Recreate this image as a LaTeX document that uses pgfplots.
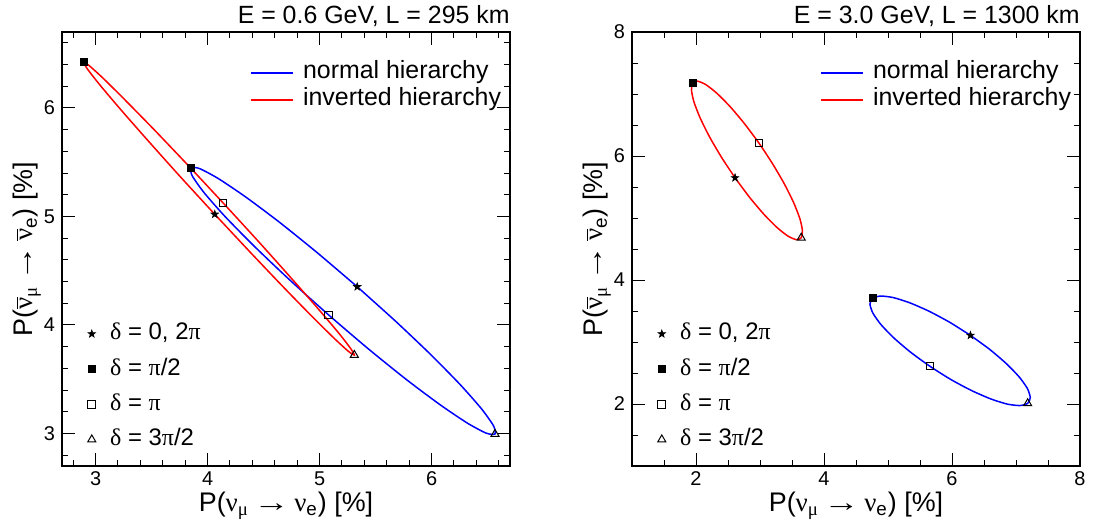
\documentclass[border=0pt]{standalone}
\usepackage{fontspec}
\setmainfont{Liberation Sans}
\newfontfamily\grk{Liberation Serif}
\usepackage{pgfplots}
\pgfplotsset{compat=1.18}
\usepackage{pgfplotstable}
\usetikzlibrary{plotmarks}

% filled five-point star
\pgfdeclareplotmark{fstar}{%
  \pgfpathmoveto{\pgfpointpolar{90}{\pgfplotmarksize}}%
  \pgfpathlineto{\pgfpointpolar{126}{0.4\pgfplotmarksize}}%
  \pgfpathlineto{\pgfpointpolar{162}{\pgfplotmarksize}}%
  \pgfpathlineto{\pgfpointpolar{198}{0.4\pgfplotmarksize}}%
  \pgfpathlineto{\pgfpointpolar{234}{\pgfplotmarksize}}%
  \pgfpathlineto{\pgfpointpolar{270}{0.4\pgfplotmarksize}}%
  \pgfpathlineto{\pgfpointpolar{306}{\pgfplotmarksize}}%
  \pgfpathlineto{\pgfpointpolar{342}{0.4\pgfplotmarksize}}%
  \pgfpathlineto{\pgfpointpolar{18}{\pgfplotmarksize}}%
  \pgfpathlineto{\pgfpointpolar{54}{0.4\pgfplotmarksize}}%
  \pgfpathclose
  \pgfusepathqfillstroke
}

\newcommand{\nub}{$\overline{\hbox{\grk ν}}$}
\newcommand{\arr}{\,\scalebox{1.35}[1]{\grk →}\,}
\newcommand{\xlab}{P({\grk ν}\textsubscript{\grk μ}\arr{\grk ν}\textsubscript{e}) [\%]}
\newcommand{\ylab}{P(\nub\textsubscript{\grk μ}\arr\nub\textsubscript{e}) [\%]}

% ellipses, delta = 0, 15, ..., 360 deg
\pgfplotstableread{
x y
5.336 4.352
4.980 4.665
4.640 4.948
4.338 5.181
4.096 5.349
3.929 5.441
3.850 5.449
3.863 5.374
3.968 5.220
4.157 4.998
4.418 4.724
4.733 4.415
5.080 4.093
5.436 3.779
5.776 3.496
6.078 3.263
6.320 3.095
6.487 3.003
6.566 2.995
6.553 3.070
6.448 3.224
6.259 3.446
5.998 3.721
5.683 4.030
5.336 4.352
}\nhleft

\pgfplotstableread{
x y
4.064 5.020
3.752 5.371
3.465 5.702
3.220 5.990
3.036 6.215
2.924 6.363
2.892 6.423
2.943 6.390
3.073 6.268
3.272 6.064
3.529 5.793
3.824 5.473
4.138 5.125
4.450 4.774
4.737 4.443
4.982 4.155
5.167 3.930
5.278 3.782
5.310 3.723
5.259 3.755
5.130 3.877
4.930 4.081
4.674 4.352
4.379 4.672
4.064 5.020
}\ihleft

\pgfplotstableread{
x y
6.288 3.107
5.964 3.318
5.640 3.497
5.338 3.633
5.080 3.717
4.883 3.741
4.759 3.706
4.718 3.613
4.763 3.468
4.889 3.282
5.090 3.067
5.350 2.838
5.653 2.610
5.977 2.398
6.301 2.219
6.603 2.083
6.861 1.999
7.059 1.975
7.182 2.010
7.223 2.103
7.179 2.248
7.052 2.434
6.851 2.649
6.591 2.879
6.288 3.107
}\nhright

\pgfplotstableread{
x y
2.610 5.648
2.397 5.981
2.211 6.310
2.065 6.613
1.969 6.869
1.929 7.062
1.948 7.177
2.025 7.207
2.155 7.150
2.328 7.010
2.533 6.796
2.756 6.523
2.982 6.210
3.195 5.877
3.381 5.548
3.527 5.245
3.623 4.989
3.663 4.796
3.644 4.681
3.567 4.651
3.437 4.708
3.264 4.848
3.059 5.062
2.836 5.335
2.610 5.648
}\ihright

\pgfplotsset{
  geom/.style={scale only axis, width=224bp, height=217bp, anchor=south west},
  rootax/.style={geom,
    axis line style={line width=1bp},
    every tick/.style={black, line width=0.5bp},
    major tick length=6.5bp, minor tick length=3.2bp,
    tick align=inside, xtick pos=both, ytick pos=both,
    tick label style={font=\fontsize{10}{12}\selectfont},
    xticklabel style={inner sep=2.6bp},
    /pgf/number format/assume math mode=true,
    xlabel style={at={(axis description cs:0.5,-0.1037)}, anchor=base, inner sep=0pt,
      font=\fontsize{13.5}{15}\selectfont},
    ylabel style={at={(axis description cs:-0.0658,0.5)}, anchor=base, inner sep=0pt,
      font=\fontsize{13.5}{15}\selectfont},
    title style={at={(axis description cs:1,1.0207)}, anchor=base east, inner sep=0pt,
      yshift=-6pt, font=\fontsize{12.5}{15}\selectfont},
    xlabel={\xlab}, ylabel={\ylab},
    legend style={draw=none, fill=none, inner sep=0pt, outer sep=0pt,
      at={(axis description cs:0.421,0.9334)}, anchor=north west,
      row sep=1.5bp, column sep=4.5bp, font=\fontsize{12.5}{15}\selectfont,
      nodes={inner sep=0pt, text height=9bp, text depth=3bp}},
    legend cell align=left,
    legend image code/.code={\draw[##1] (0bp,0bp) -- (21bp,0bp);},
  },
  markax/.style={geom, hide axis,
    legend style={draw=none, fill=none, inner sep=0pt, outer sep=0pt,
      at={(axis description cs:0.0576,0.0334)}, anchor=south west,
      row sep=5.6bp, column sep=7.2bp, font=\fontsize{12}{14}\selectfont,
      nodes={inner sep=0pt, text height=9bp, text depth=3bp}},
    legend cell align=left,
    legend image code/.code={\draw[##1] plot coordinates {(0bp,0bp)};},
  },
  mstar/.style={only marks, black, mark=fstar, mark size=2bp, mark options={line width=0.3bp}},
  mfsq/.style={only marks, black, mark=square*, mark size=1.8bp},
  mosq/.style={only marks, black, mark=square, mark size=1.9bp, mark options={line width=0.5bp}},
  mtri/.style={only marks, black, mark=triangle, mark size=2.3bp, mark options={line width=0.5bp}},
}

\begin{document}
\begin{tikzpicture}
\path[use as bounding box] (0,0) rectangle (550bp,262bp);

% left panel
\begin{axis}[rootax, at={(31bp,29bp)},
  xmin=2.7, xmax=6.7, ymin=2.7, ymax=6.7,
  xtick={3,4,5,6}, ytick={3,4,5,6},
  minor xtick={2.8,3.2,3.4,3.6,3.8,4.2,4.4,4.6,4.8,5.2,5.4,5.6,5.8,6.2,6.4,6.6},
  minor ytick={2.8,3.2,3.4,3.6,3.8,4.2,4.4,4.6,4.8,5.2,5.4,5.6,5.8,6.2,6.4,6.6},
  title={E = 0.6 GeV, L = 295 km}]
\addplot[blue, line width=0.75bp, smooth, tension=0.4] table {\nhleft};
\addlegendentry{normal hierarchy}
\addplot[red, line width=0.75bp, smooth, tension=0.4] table {\ihleft};
\addlegendentry{inverted hierarchy}
\end{axis}
\begin{axis}[markax, at={(31bp,29bp)},
  xmin=2.7, xmax=6.7, ymin=2.7, ymax=6.7]
\addplot[mstar] coordinates {(5.336,4.352) (4.064,5.020)};
\addlegendentry{{\grk δ} = 0, 2{\grk π}}
\addplot[mfsq] coordinates {(3.850,5.449) (2.892,6.423)};
\addlegendentry{{\grk δ} = {\grk π}/2}
\addplot[mosq] coordinates {(5.080,4.093) (4.138,5.125)};
\addlegendentry{{\grk δ} = {\grk π}}
\addplot[mtri] coordinates {(6.566,2.995) (5.310,3.723)};
\addlegendentry{{\grk δ} = 3{\grk π}/2}
\end{axis}

% right panel
\begin{axis}[rootax, at={(316bp,29bp)},
  xmin=1, xmax=8, ymin=1, ymax=8,
  xtick={2,4,6,8}, ytick={2,4,6,8},
  minor xtick={1.5,2.5,3,3.5,4.5,5,5.5,6.5,7,7.5},
  minor ytick={1.5,2.5,3,3.5,4.5,5,5.5,6.5,7,7.5},
  title={E = 3.0 GeV, L = 1300 km}]
\addplot[blue, line width=0.75bp, smooth, tension=0.4] table {\nhright};
\addlegendentry{normal hierarchy}
\addplot[red, line width=0.75bp, smooth, tension=0.4] table {\ihright};
\addlegendentry{inverted hierarchy}
\end{axis}
\begin{axis}[markax, at={(316bp,29bp)},
  xmin=1, xmax=8, ymin=1, ymax=8]
\addplot[mstar] coordinates {(6.288,3.107) (2.610,5.648)};
\addlegendentry{{\grk δ} = 0, 2{\grk π}}
\addplot[mfsq] coordinates {(4.759,3.706) (1.948,7.177)};
\addlegendentry{{\grk δ} = {\grk π}/2}
\addplot[mosq] coordinates {(5.653,2.610) (2.982,6.210)};
\addlegendentry{{\grk δ} = {\grk π}}
\addplot[mtri] coordinates {(7.182,2.010) (3.644,4.681)};
\addlegendentry{{\grk δ} = 3{\grk π}/2}
\end{axis}
\end{tikzpicture}
\end{document}
